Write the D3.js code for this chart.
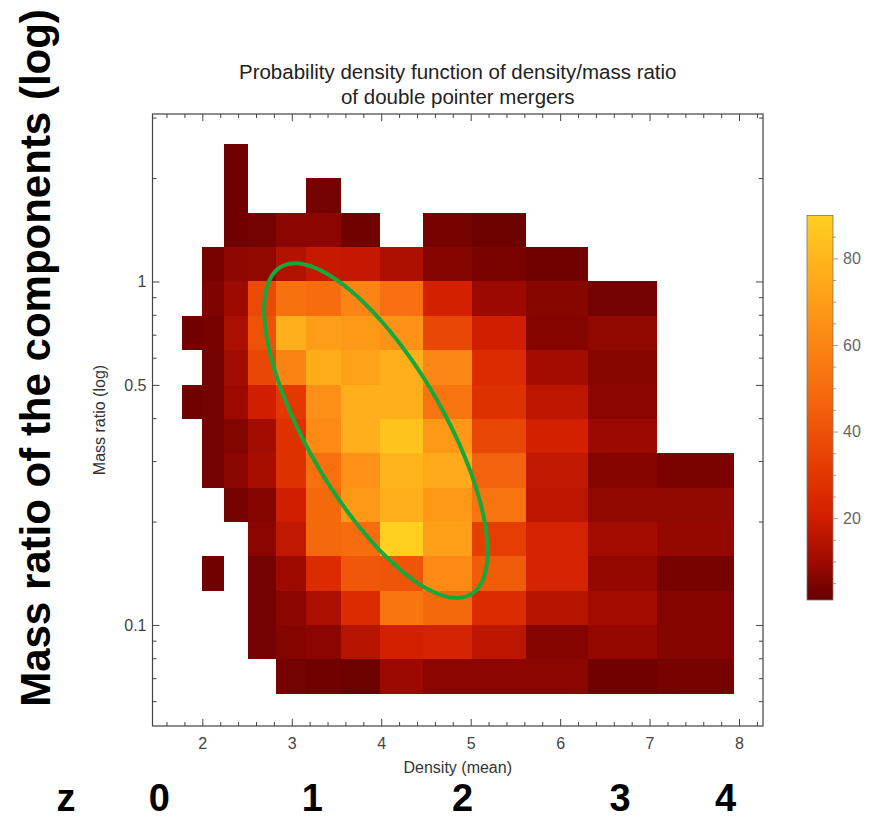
<!DOCTYPE html>
<html><head><meta charset="utf-8">
<script src="https://cdn.jsdelivr.net/npm/d3@7"></script>
<style>
body{margin:0;background:#fff;}
svg{display:block;font-family:"Liberation Sans",Arial,Helvetica,sans-serif;}
</style>
</head><body>
<svg id="chart" width="869" height="819"></svg>
<script>
// ---------- data ----------
const titleLines = ["Probability density function of density/mass ratio", "of double pointer mergers"];
const xLabel = "Density (mean)";
const yLabel = "Mass ratio (log)";
const bigYLabel = "Mass ratio of the components (log)";
const zName = "z";
const zLabels = ["0", "1", "2", "3", "4"];
const zAtDensity = [1.52, 3.23, 4.91, 6.67, 7.85];

// bin edges (log10), density left→right, mass ratio top→bottom
const densityEdgesLog10 = [0.25, 0.30, 0.35, 0.40, 0.45, 0.50, 0.55, 0.60, 0.65, 0.70, 0.75, 0.80, 0.85, 0.90];
const massEdgesLog10 = [0.4, 0.3, 0.2, 0.1, 0.0, -0.1, -0.2, -0.3, -0.4, -0.5, -0.6, -0.7, -0.8, -0.9, -1.0, -1.1, -1.2];

// PDF values per cell (rows = mass-ratio bins top→bottom, cols = density bins)
const _ = null;
const pdfGrid = [
  [_, _, 3,   _,   _,   _,   _,   _,   _,   _,   _,   _,   _],
  [_, _, 3,   _,   _,   3.5, _,   _,   _,   _,   _,   _,   _],
  [_, _, 3,   3.5, 7,   7,   3,   _,   4,   2.5, _,   _,   _],
  [_, 4, 7.5, 8,   14,  18,  17.5,13,  6,   4.5, 3,   _,   _],
  [_, 5, 10,  37,  52,  50,  60,  51,  21,  9.5, 6.5, 3.5, _],
  [3, 4, 12.5,40,  77,  70,  68,  65,  36,  20,  6,   8,   _],
  [_, 3.5,11, 36,  59,  76,  72,  77,  61,  26,  11,  6.5, _],
  [3, 3.5,10, 20,  31,  64,  77,  77,  53,  28,  16,  7,   _],
  [_, 3.5,6,  11,  28,  62,  77,  85,  68,  36,  21,  9.5, _],
  [_, 3.5,7,  12,  28,  51,  65,  79,  75,  46,  17,  6,   4.5],
  [_, _, 3.5, 6,   20,  49,  68,  77,  68,  53,  16,  8,   8],
  [_, _, _,   7,   17,  49,  50,  90,  71,  33,  22,  11,  8.5],
  [_, 3, _,   3.5, 10,  26,  42,  41,  62,  44,  22,  8.5, 4],
  [_, _, _,   3.5, 7,   12.5,26,  54,  49,  26,  15,  11,  6],
  [_, _, _,   3.5, 6,   7,   15,  21,  22,  16,  6,   8.5, 6],
  [_, _, _,   _,   3.5, 3,   2.5, 9.5, 7,   7,   7,   3,   4]
];

const xMajorTicks = [2, 3, 4, 5, 6, 7, 8];
const yMajorTicks = [0.1, 0.5, 1];
const yMinorTicks = [0.06, 0.07, 0.08, 0.09, 0.2, 0.3, 0.4, 0.6, 0.7, 0.8, 0.9, 2, 3];
const cbMajorTicks = [20, 40, 60, 80];
const cbMinorTicks = [5, 10, 15, 25, 30, 35, 45, 50, 55, 65, 70, 75, 85];

// colour map stops
const colorStopValues = [2, 10, 20, 30, 40, 50, 60, 70, 80, 90];
const colorStopColors = ["#6a0000", "#9e0a00", "#d01e00", "#e23600", "#ee5208", "#f66c0e", "#fb8514", "#fe9e18", "#ffb61c", "#ffd020"];
const colorRange = [1.1, 89.9];

// fitted ellipse (density, mass ratio)
const ellipse = { density: 3.94, massRatio: 0.368, halfDensity: 1.249, halfLogMass: 0.487, corr: -0.723 };

// ---------- layout ----------
const frame = { left: 152.5, right: 763, top: 114, bottom: 726 };
const svg = d3.select("#chart");

const x = d3.scaleLinear().domain([1.443, 8.268]).range([frame.left, frame.right]);
const y = d3.scaleLog().domain([0.0508, 3.073]).range([frame.bottom, frame.top]);
const color = d3.scaleLinear().domain(colorStopValues).range(colorStopColors).interpolate(d3.interpolateRgb).clamp(true);

// cells
const cells = [];
pdfGrid.forEach((row, i) => row.forEach((v, j) => {
  if (v == null) return;
  cells.push({ v,
    x0: Math.pow(10, densityEdgesLog10[j]), x1: Math.pow(10, densityEdgesLog10[j + 1]),
    yTop: Math.pow(10, massEdgesLog10[i]), yBot: Math.pow(10, massEdgesLog10[i + 1]) });
}));

svg.append("g").selectAll("rect").data(cells).join("rect")
  .attr("x", d => x(d.x0))
  .attr("y", d => y(d.yTop))
  .attr("width", d => x(d.x1) - x(d.x0))
  .attr("height", d => y(d.yBot) - y(d.yTop))
  .attr("fill", d => color(d.v))
  .attr("shape-rendering", "crispEdges");

// ellipse
const ts = d3.range(0, 2 * Math.PI + 0.001, Math.PI / 180);
const clY = Math.log10(ellipse.massRatio);
const rho = ellipse.corr;
const ellPts = ts.map(t => [
  x(ellipse.density + ellipse.halfDensity * Math.cos(t)),
  y(Math.pow(10, clY + ellipse.halfLogMass * (rho * Math.cos(t) + Math.sqrt(1 - rho * rho) * Math.sin(t))))
]);
svg.append("path").attr("d", d3.line()(ellPts) + "Z")
  .attr("fill", "none").attr("stroke", "#17a83c").attr("stroke-width", 4);

// frame & ticks
const tickColor = "#444";
const xMinorTicks = d3.range(1.6, 8.3, 0.2).map(v => +v.toFixed(1)).filter(v => Math.abs(v - Math.round(v)) > 1e-6);

function styleAxis(g) {
  g.select(".domain").remove();
  g.selectAll(".tick line").attr("stroke", tickColor).attr("stroke-width", 1);
  g.selectAll("text").attr("fill", "#444").attr("font-size", 16).attr("font-family", "'Liberation Sans', Arial, sans-serif");
}
// bottom
svg.append("g").attr("transform", `translate(0,${frame.bottom})`)
  .call(d3.axisBottom(x).tickValues(xMajorTicks).tickSize(-7).tickPadding(12).tickFormat(d3.format("d"))).call(styleAxis);
svg.append("g").attr("transform", `translate(0,${frame.bottom})`)
  .call(d3.axisBottom(x).tickValues(xMinorTicks).tickSize(-4).tickFormat("")).call(styleAxis);
// top
svg.append("g").attr("transform", `translate(0,${frame.top})`)
  .call(d3.axisTop(x).tickValues(xMajorTicks).tickSize(-7).tickFormat("")).call(styleAxis);
svg.append("g").attr("transform", `translate(0,${frame.top})`)
  .call(d3.axisTop(x).tickValues(xMinorTicks).tickSize(-4).tickFormat("")).call(styleAxis);
// left
svg.append("g").attr("transform", `translate(${frame.left},0)`)
  .call(d3.axisLeft(y).tickValues(yMajorTicks).tickSize(-7).tickPadding(6).tickFormat(d3.format(""))).call(styleAxis);
svg.append("g").attr("transform", `translate(${frame.left},0)`)
  .call(d3.axisLeft(y).tickValues(yMinorTicks).tickSize(-4).tickFormat("")).call(styleAxis);
// right
svg.append("g").attr("transform", `translate(${frame.right},0)`)
  .call(d3.axisRight(y).tickValues(yMajorTicks).tickSize(-7).tickFormat("")).call(styleAxis);
svg.append("g").attr("transform", `translate(${frame.right},0)`)
  .call(d3.axisRight(y).tickValues(yMinorTicks).tickSize(-4).tickFormat("")).call(styleAxis);

svg.append("rect").attr("x", frame.left).attr("y", frame.top)
  .attr("width", frame.right - frame.left).attr("height", frame.bottom - frame.top)
  .attr("fill", "none").attr("stroke", "#444").attr("stroke-width", 1.2);

// titles and labels
svg.append("g").selectAll("text").data(titleLines).join("text")
  .attr("x", (frame.left + frame.right) / 2).attr("y", (d, i) => 79 + i * 25)
  .attr("text-anchor", "middle").attr("font-size", 20.5).attr("fill", "#222").text(d => d);

svg.append("text").attr("x", (frame.left + frame.right) / 2).attr("y", 773)
  .attr("text-anchor", "middle").attr("font-size", 16).attr("fill", "#333").text(xLabel);

svg.append("text").attr("transform", `translate(105,${(frame.top + frame.bottom) / 2}) rotate(-90)`)
  .attr("text-anchor", "middle").attr("font-size", 16).attr("fill", "#333").text(yLabel);

svg.append("text").attr("transform", `translate(50,358) rotate(-90)`)
  .attr("text-anchor", "middle").attr("font-size", 42).attr("font-weight", "bold").attr("fill", "#000").text(bigYLabel);

svg.append("text").attr("x", 66).attr("y", 811).attr("text-anchor", "middle")
  .attr("font-size", 38).attr("font-weight", "bold").text(zName);
svg.append("g").selectAll("text").data(zLabels).join("text")
  .attr("x", (d, i) => x(zAtDensity[i])).attr("y", 811).attr("text-anchor", "middle")
  .attr("font-size", 38).attr("font-weight", "bold").text(d => d);

// colour bar
const cb = { x: 807, w: 26, top: 215.5, bottom: 600 };
const cScale = d3.scaleLinear().domain(colorRange).range([cb.bottom, cb.top]);
const defs = svg.append("defs");
const grad = defs.append("linearGradient").attr("id", "cbgrad")
  .attr("x1", 0).attr("y1", 1).attr("x2", 0).attr("y2", 0);
d3.range(0, 1.0001, 0.02).forEach(t => {
  grad.append("stop").attr("offset", t).attr("stop-color", color(colorRange[0] + t * (colorRange[1] - colorRange[0])));
});
svg.append("rect").attr("x", cb.x).attr("y", cb.top).attr("width", cb.w).attr("height", cb.bottom - cb.top)
  .attr("fill", "url(#cbgrad)").attr("stroke", "#777").attr("stroke-width", 0.8);

function styleCb(g) {
  g.select(".domain").remove();
  g.selectAll(".tick line").attr("stroke", "#999");
  g.selectAll("text").attr("fill", "#666").attr("font-size", 16).attr("font-family", "'Liberation Sans', Arial, sans-serif");
}
svg.append("g").attr("transform", `translate(${cb.x + cb.w},0)`)
  .call(d3.axisRight(cScale).tickValues(cbMajorTicks).tickSize(5).tickPadding(5)).call(styleCb);
svg.append("g").attr("transform", `translate(${cb.x + cb.w},0)`)
  .call(d3.axisRight(cScale).tickValues(cbMinorTicks).tickSize(3).tickFormat("")).call(styleCb);
</script>
</body></html>
